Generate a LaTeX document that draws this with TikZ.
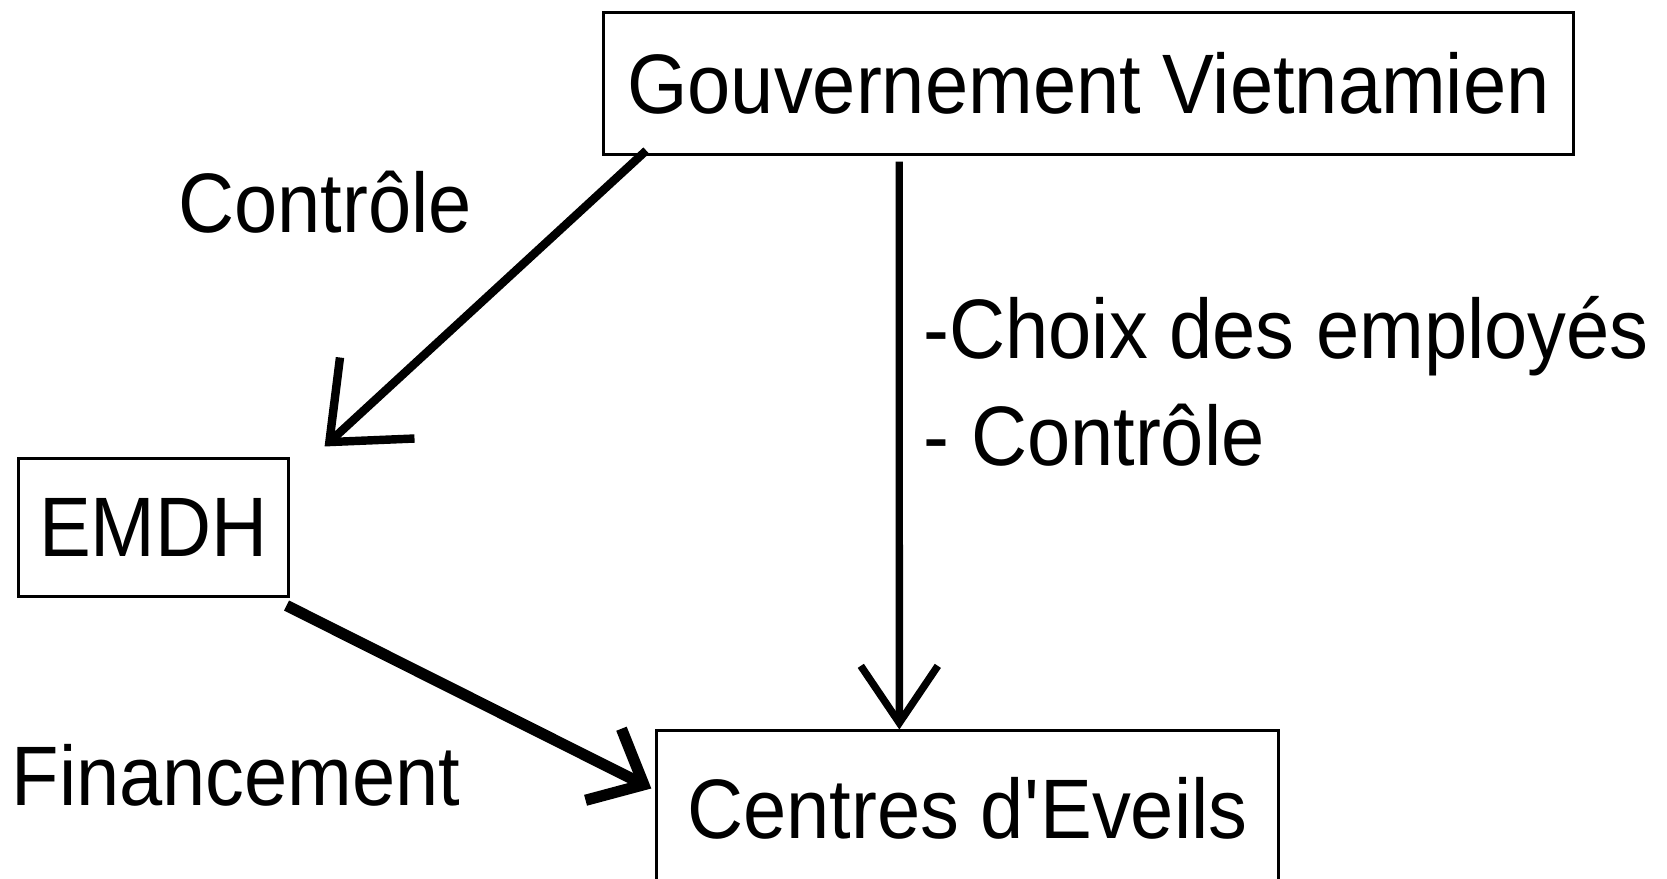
\documentclass[tikz,border=0pt]{standalone}
\usepackage{fontspec}
\setmainfont{Liberation Sans}[FakeStretch=0.92]
\usetikzlibrary{arrows.meta, calc}

\begin{document}
\begin{tikzpicture}[x=0.01cm, y=-0.01cm, font=\fontsize{24}{28}\selectfont,
    main/.style = {draw, rectangle, line width=0.85pt, inner sep=0pt},
    lab/.style = {inner sep=0pt}]
      \clip (0,0) rectangle (1667,878);
      \node[main, minimum width=9.69cm, minimum height=1.41cm] (1) at (1088.5,83.5) {Gouvernement Vietnamien};
      \node[main, minimum width=2.69cm, minimum height=1.37cm] (2) at (153.5,527.5) {EMDH};
      \node[main, minimum width=6.21cm, minimum height=1.54cm] (3) at (967.5,808) {Centres d\textquotesingle Eveils};

      \node[lab, anchor=base] (4) at (325,232) {Contrôle};
      \node[lab, anchor=base west] (5) at (923,358) {-Choix des employés};
      \node[lab, anchor=base west] (6) at (923,465) {- Contrôle};
      \node[lab, anchor=base west] (7) at (11,805) {Financement};

      \path
      ($(1.south west)+(44,-5)$) edge[line width=2.4pt, -{Straight Barb[length=6.5mm, width=11mm]}] ($(2.north east)+(35,-11)$)
      ($(1.south west)+(297,6)$) edge[line width=2.1pt, -{Straight Barb[length=5.7mm, width=7.7mm]}] ($(3.north west)+(244,0)$)
      ($(2.south east)+(-3,8)$)  edge[line width=3.2pt, -{Straight Barb[length=4.5mm, width=8mm]}] ($(3.north west)+(-4,59)$);
    \end{tikzpicture}
\end{document}
